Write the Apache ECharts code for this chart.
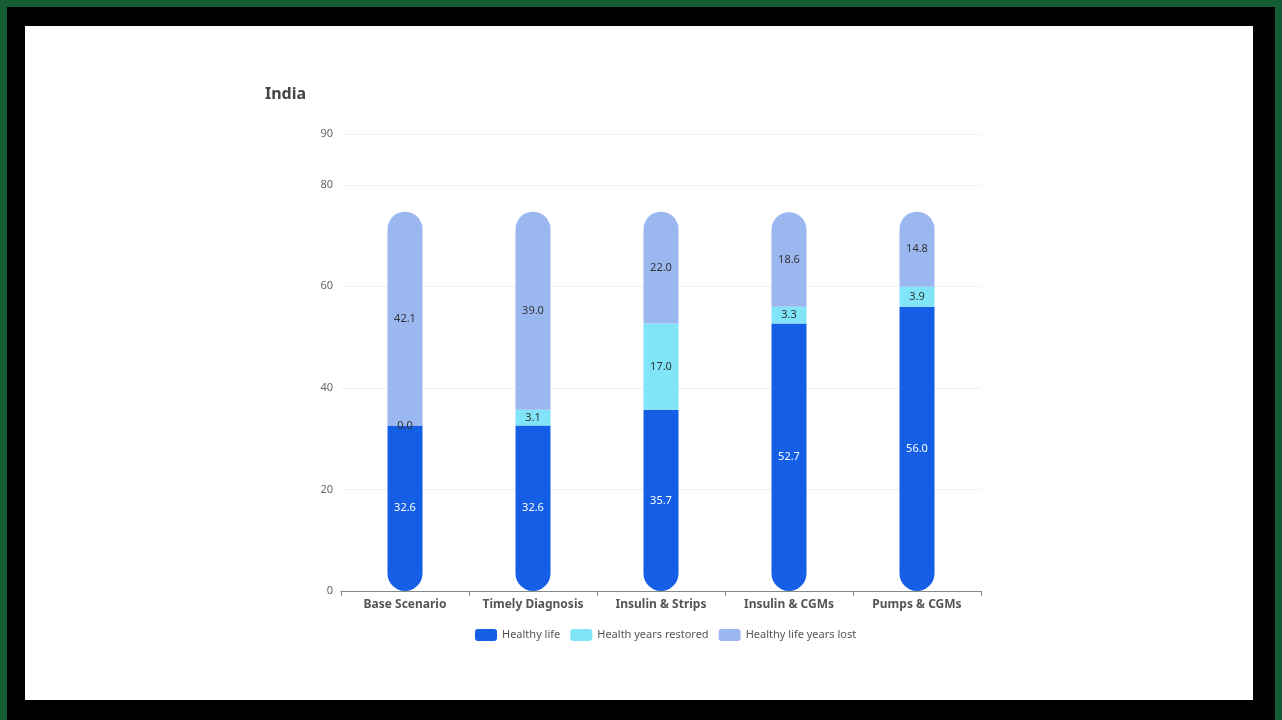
<!DOCTYPE html>
<html>
<head>
<meta charset="utf-8">
<script src="https://cdn.jsdelivr.net/npm/echarts@6/dist/echarts.min.js"></script>
<style>
  html, body { margin: 0; padding: 0; width: 1282px; height: 720px; overflow: hidden; background: #145c32; }
  #frame { position: absolute; left: 7px; top: 7px; width: 1268px; height: 713px; background: #000; }
  #panel { position: absolute; left: 25px; top: 26px; width: 1228px; height: 674px; background: #fff; }
  #chart-container { position: absolute; left: 0; top: 0; width: 1282px; height: 720px; }
</style>
</head>
<body>
<div id="frame"></div>
<div id="panel"></div>
<div id="chart-container"></div>
<script>
// data
const scenarios = ["Base Scenario", "Timely Diagnosis", "Insulin & Strips", "Insulin & CGMs", "Pumps & CGMs"];
const healthyLife = [32.6, 32.6, 35.7, 52.7, 56.0];
const yearsRestored = [0.0, 3.1, 17.0, 3.3, 3.9];
const yearsLost = [42.1, 39.0, 22.0, 18.6, 14.8];

const FONT = "Noto Sans";

/**
 * Render the stacked "India" bar chart
 */
function chartIndia(containerId = "chart-container") {
  const dom = document.getElementById(containerId);
  if (!dom) {
    console.warn(`Container #${containerId} not found`);
    return null;
  }

  const chart = echarts.init(dom, null, { renderer: "canvas" });

  const labelDark = {
    show: true,
    position: "inside",
    color: "#333",
    fontSize: 11,
    fontFamily: FONT,
    formatter: (p) => p.value.toFixed(1),
  };

  const option = {
    backgroundColor: "transparent",
    textStyle: { fontFamily: FONT },
    title: {
      text: "India",
      left: 260,
      top: 81,
      textStyle: { fontSize: 16, fontWeight: "bold", color: "#444", fontFamily: FONT },
    },
    grid: { left: 341, right: 301, top: 134, bottom: 129, containLabel: false },
    legend: {
      top: 624,
      left: 470,
      itemWidth: 22,
      itemHeight: 12,
      itemGap: 10,
      icon: "roundRect",
      textStyle: { fontSize: 11, color: "#555", fontFamily: FONT },
      data: ["Healthy life", "Health years restored", "Healthy life years lost"],
    },
    xAxis: {
      type: "category",
      data: scenarios,
      axisLine: { lineStyle: { color: "#888" } },
      axisTick: { show: true, lineStyle: { color: "#888" } },
      axisLabel: { interval: 0, fontSize: 12, fontWeight: "bold", color: "#555", fontFamily: FONT, margin: 8 },
    },
    yAxis: {
      type: "value",
      min: 0,
      max: 90,
      interval: 20,
      axisLine: { show: false },
      axisTick: { show: false },
      axisLabel: { fontSize: 11, color: "#666", fontFamily: FONT, margin: 8 },
      splitLine: { lineStyle: { color: "#edf1f5" } },
    },
    series: [
      {
        name: "Healthy life",
        type: "bar",
        stack: "total",
        barWidth: 35,
        data: healthyLife,
        itemStyle: { color: "#155ee6", borderRadius: [0, 0, 17.5, 17.5] },
        label: { ...labelDark, color: "#fff" },
      },
      {
        name: "Health years restored",
        type: "bar",
        stack: "total",
        barWidth: 35,
        data: yearsRestored,
        itemStyle: { color: "#80e5f8" },
        label: labelDark,
      },
      {
        name: "Healthy life years lost",
        type: "bar",
        stack: "total",
        barWidth: 35,
        data: yearsLost,
        itemStyle: { color: "#9bb7f0", borderRadius: [17.5, 17.5, 0, 0] },
        label: labelDark,
      },
    ],
  };

  chart.setOption(option);
  window.addEventListener("resize", chart.resize);
  return chart;
}

chartIndia();
</script>
</body>
</html>
